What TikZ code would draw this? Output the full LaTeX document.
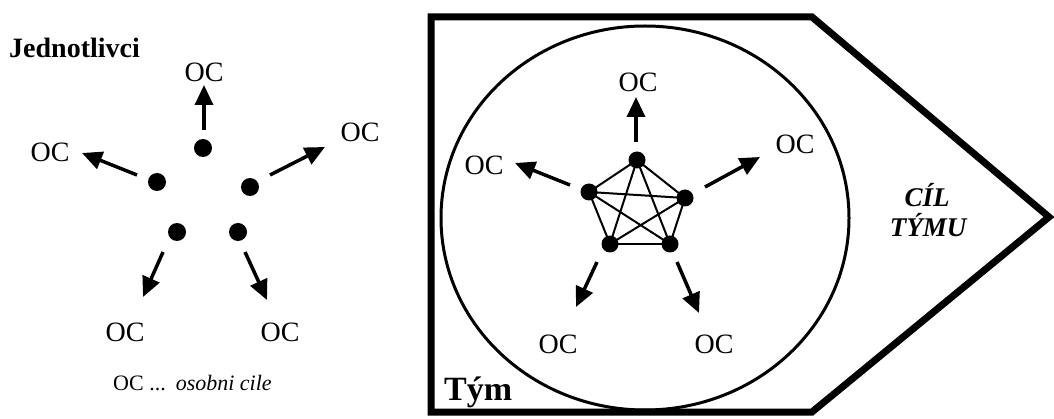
\documentclass[tikz,border=0pt]{standalone}
\usepackage{fontspec}
\setmainfont{Liberation Serif}
\usetikzlibrary{arrows.meta}
\tikzset{
  dot/.style={circle,fill=black,inner sep=0pt,minimum size=18pt},
  goal/.style={inner sep=0pt,font=\fontsize{28}{32}\selectfont},
  arr/.style={line width=3.5pt,-{Triangle[length=20pt,width=18pt]}},
  link/.style={line width=2pt},
}
\begin{document}
\begin{tikzpicture}[x=1pt,y=-1pt]
\useasboundingbox (0,0) rectangle (1054,419);
% ---------- left: individuals ----------
\node[anchor=base west,inner sep=0pt,font=\fontsize{28}{30}\selectfont\bfseries] (jed) at (9,58) {Jednotlivci};
\node[dot] (l1) at (203,148) {};
\node[dot] (l2) at (157,182) {};
\node[dot] (l3) at (250,187) {};
\node[dot] (l4) at (177,232) {};
\node[dot] (l5) at (238,232) {};
\node[goal] (lo1) at (204,72) {OC};
\node[goal] (lo2) at (50,152) {OC};
\node[goal] (lo3) at (360,132) {OC};
\node[goal] (lo4) at (125,332) {OC};
\node[goal] (lo5) at (280,332) {OC};
\coordinate (ls1) at (204,130); \coordinate (lt1) at (204,85);
\coordinate (ls2) at (137,175); \coordinate (lt2) at (82,153);
\coordinate (ls3) at (270,175); \coordinate (lt3) at (325,147);
\coordinate (ls4) at (163,252); \coordinate (lt4) at (143,297);
\coordinate (ls5) at (245,252); \coordinate (lt5) at (267,300);
\foreach \i in {1,...,5} \draw[arr] (ls\i) -- (lt\i);
\node[anchor=west,inner sep=0pt,font=\fontsize{22}{24}\selectfont] (leg) at (113,383) {OC ...\hspace{10pt}\textit{osobni cile}};
% ---------- right: team ----------
\draw[line width=7pt,line join=miter] (431,17) coordinate (c1) -- (812,17) coordinate (c2) -- (1049,217) coordinate (c3) -- (812,412) coordinate (c4) -- (431,412) coordinate (c5) -- cycle;
\draw[line width=3pt] (645,218) ellipse [x radius=204, y radius=192];
\node[dot,minimum size=17pt] (t1) at (637,160) {};
\node[dot,minimum size=17pt] (t2) at (589,192) {};
\node[dot,minimum size=17pt] (t3) at (685,198) {};
\node[dot,minimum size=17pt] (t4) at (610,244) {};
\node[dot,minimum size=17pt] (t5) at (670,244) {};
\foreach \a/\b in {t1/t2,t1/t3,t1/t4,t1/t5,t2/t3,t2/t4,t2/t5,t3/t4,t3/t5,t4/t5}
  \draw[link] (\a.center) -- (\b.center);
\node[goal] (to1) at (638,82) {OC};
\node[goal] (to2) at (484,165) {OC};
\node[goal] (to3) at (795,144) {OC};
\node[goal] (to4) at (558,344) {OC};
\node[goal] (to5) at (714,344) {OC};
\coordinate (ts1) at (636,142); \coordinate (tt1) at (636,97);
\coordinate (ts2) at (570,185); \coordinate (tt2) at (515,163);
\coordinate (ts3) at (705,187); \coordinate (tt3) at (760,157);
\coordinate (ts4) at (597,262); \coordinate (tt4) at (576,307);
\coordinate (ts5) at (677,262); \coordinate (tt5) at (699,313);
\foreach \i in {1,...,5} \draw[arr] (ts\i) -- (tt\i);
\node[anchor=base,inner sep=0pt,font=\fontsize{27}{30}\selectfont\bfseries\itshape] (cil) at (927,207) {CÍL};
\node[anchor=base,inner sep=0pt,font=\fontsize{27}{30}\selectfont\bfseries\itshape] (tymu) at (928,237) {TÝMU};
\node[anchor=base west,inner sep=0pt,font=\fontsize{34}{36}\selectfont\bfseries] (tym) at (444,400) {Tým};
\end{tikzpicture}
\end{document}
